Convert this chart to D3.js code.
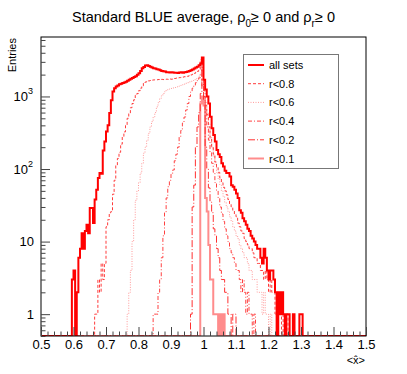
<html>
<head>
<meta charset="utf-8">
<title>Standard BLUE average</title>
<style>
  body { margin: 0; background: #fff; }
  text { font-family: "Liberation Sans", Arial, sans-serif; fill: #000; }
</style>
<script src="https://d3js.org/d3.v7.min.js"></script>
</head>
<body>
<script>
// ---------- data: bin contents, bin width 0.005 from 0.5 to 1.5 ----------
var binWidth = 0.005;
var xLow = 0.5, xHigh = 1.5;

// first bin lower edge of each series, then its counts
var allSetsStart = 0.595;
var allSets = [3,4,0,2,6,8,13,8,14,17,13,29,29,18,38,52,75,88,86,180,
  240,330,400,590,890,1170,1300,1370,1420,1470,1500,1530,1560,1600,1650,1700,1750,1800,1860,1900,
  2000,2090,2250,2440,2550,2680,2700,2620,2570,2500,2440,2420,2370,2360,2300,2240,2230,2200,2150,2160,
  2140,2150,2140,2120,2130,2110,2140,2150,2130,2160,2180,2200,2240,2300,2350,2420,2500,2570,2700,2840,
  3450,1700,1250,1000,800,525,365,295,240,183,160,147,120,108,95,88,88,79,60,57,
  52,46,40,27,25,21,19,17,15,14,12,11,10,9,8,8,6,5,8,6,
  4,3,4,4,3,2,0,2,1,2,1,0,1,1,0,0,1,0,0,0,1,1];

var r08Start = 0.665;
var r08 = [1,1,3,2,5,3,5,16,20,25,26,45,70,113,140,170,220,280,325,400,
  500,580,700,800,900,1040,1100,1200,1300,1400,1540,1580,1620,1640,1660,1680,1690,1700,1700,1710,
  1700,1720,1710,1720,1730,1720,1740,1730,1760,1770,1790,1800,1820,1830,1850,1870,1880,1900,1940,1980,
  2020,2080,2150,2220,2300,3200,1400,1000,750,560,380,260,200,160,125,105,90,75,65,56,
  50,44,38,33,30,27,24,22,18,16,14,13,11,10,9,8,8,7,6,6,
  5,5,4,4,3,4,3,2,3,2,2,1,2,1,1,0,1,0,1];

var r06Start = 0.765;
var r06 = [1,2,4,10,20,37,50,65,88,120,165,200,250,310,380,450,520,600,720,820,
  940,1020,1100,1160,1220,1250,1270,1290,1310,1330,1350,1370,1400,1420,1450,1480,1520,1550,1590,1620,
  1660,1700,1750,1800,1900,2100,3000,1300,850,600,420,280,200,150,115,90,72,60,50,42,
  35,30,26,22,19,16,14,12,11,9,8,7,6,6,5,4,4,3,3,3,
  2,2,2,1,2,1,1,0,1];

var r04Start = 0.845;
var r04 = [1,1,1,2,3,6,12,25,40,57,70,85,97,130,160,200,280,340,430,520,
  650,800,1000,1150,1300,1420,1550,1650,1800,2000,2800,1200,600,380,250,170,120,90,65,50,
  40,30,24,19,15,12,10,8,7,6,5,4,4,3,2,3,2,1,2,1,1,0,1];

var r02Start = 0.96;
var r02 = [1,30,60,200,380,600,1100,2500,900,200,100,55,35,25,15,12,8,6,4,3,
  3,2,2,1,1,0,1,1];

var r01Start = 0.99;
var r01 = [800,1000,750,40,26,9,3,3,1,1,1,0,1,0,1];

var seriesNames = ["all sets","r<0.8","r<0.6","r<0.4","r<0.2","r<0.1"];

var xTickValues = [0.5,0.6,0.7,0.8,0.9,1,1.1,1.2,1.3,1.4,1.5];
var yDecades = [1,10,100,1000];

// ---------- layout ----------
var width = 407, height = 374;
var frame = {left:41, right:366, top:37, bottom:336};

var svg = d3.select("body").append("svg")
  .attr("width", width).attr("height", height);

var x = d3.scaleLinear().domain([xLow, xHigh]).range([frame.left, frame.right]);
var y = d3.scaleLog().domain([0.5, 6600]).range([frame.bottom, frame.top]);

// line styles per series (same order as seriesNames)
var styles = [
  {color:"#ff0000", width:2,   dash:null},
  {color:"#ff3b3b", width:1,   dash:"3,2"},
  {color:"#ff9a9a", width:1,   dash:"1,1.5"},
  {color:"#ff4040", width:1,   dash:"4,2,1,2"},
  {color:"#ff3030", width:1,   dash:"7,2,1,2"},
  {color:"#ff8c8c", width:2,   dash:null}
];

// turn a series into a full list of bins over the axis range
function fullBins(start, counts){
  var nBins = Math.round((xHigh - xLow) / binWidth);
  var offset = Math.round((start - xLow) / binWidth);
  var pts = [];
  for (var i = 0; i < nBins; i++){
    var c = (i - offset >= 0 && i - offset < counts.length) ? counts[i - offset] : 0;
    pts.push([xLow + i * binWidth, c]);
  }
  pts.push([xHigh, pts[pts.length - 1][1]]);
  return pts;
}

var histLine = d3.line()
  .x(function(d){ return x(d[0]); })
  .y(function(d){ return d[1] > 0 ? y(d[1]) : frame.bottom; })
  .curve(d3.curveStepAfter);

svg.append("clipPath").attr("id","frameClip")
  .append("rect")
  .attr("x", frame.left).attr("y", frame.top)
  .attr("width", frame.right - frame.left)
  .attr("height", frame.bottom - frame.top);

var histData = [
  fullBins(allSetsStart, allSets),
  fullBins(r08Start, r08),
  fullBins(r06Start, r06),
  fullBins(r04Start, r04),
  fullBins(r02Start, r02),
  fullBins(r01Start, r01)
];

// draw subsets first, "all sets" last on top
var order = [5,4,3,2,1,0];
var gHist = svg.append("g").attr("clip-path","url(#frameClip)");
order.forEach(function(k){
  gHist.append("path")
    .attr("d", histLine(histData[k]))
    .attr("fill","none")
    .attr("stroke", styles[k].color)
    .attr("stroke-width", styles[k].width)
    .attr("stroke-dasharray", styles[k].dash);
});

// ---------- frame and axes ----------
svg.append("rect")
  .attr("x", frame.left).attr("y", frame.top)
  .attr("width", frame.right - frame.left)
  .attr("height", frame.bottom - frame.top)
  .attr("fill","none").attr("stroke","#000").attr("stroke-width",1);

// x axis: major ticks every 0.1, minor every 0.02
var xMinor = d3.range(25, 76, 1).map(function(d){ return d / 50; })
  .filter(function(d){ return Math.abs(d * 10 - Math.round(d * 10)) > 1e-6; });
var gx = svg.append("g").attr("transform","translate(0," + frame.bottom + ")");
gx.call(d3.axisBottom(x).tickValues(xMinor).tickSize(-4.5).tickFormat(""));
gx.call(function(g){
  g.append("g").call(d3.axisBottom(x).tickValues(xTickValues).tickSize(-9).tickPadding(4)
    .tickFormat(d3.format("")));
});
gx.selectAll(".domain").remove();
gx.selectAll("line").attr("stroke","#444");
gx.selectAll("text").attr("font-size","13px").attr("font-family","Liberation Sans, Arial, sans-serif");

// y axis: log, major at decades, minor 2..9
var yMinor = [];
[0.1,1,10,100,1000].forEach(function(dec){
  for (var m = 2; m <= 9; m++){
    var v = dec * m;
    if (v >= 0.5 && v <= 6600) yMinor.push(v);
  }
});
var gy = svg.append("g").attr("transform","translate(" + frame.left + ",0)");
gy.call(d3.axisLeft(y).tickValues(yMinor).tickSize(-4.5).tickFormat(""));
gy.append("g").call(d3.axisLeft(y).tickValues(yDecades).tickSize(-9).tickFormat(""));
gy.selectAll(".domain").remove();
gy.selectAll("line").attr("stroke","#444");

// decade labels as 1, 10, 10^2, 10^3
var yLab = svg.append("g");
yDecades.forEach(function(v){
  var p = Math.round(Math.log10(v));
  var t = yLab.append("text")
    .attr("x", frame.left - 7).attr("y", y(v) + 4.5)
    .attr("text-anchor","end").attr("font-size","13px");
  if (p <= 1) {
    t.text(String(v));
  } else {
    t.attr("x", frame.left - 13);
    t.text("10");
    yLab.append("text")
      .attr("x", frame.left - 13).attr("y", y(v) - 2)
      .attr("font-size","9px").text(String(p));
  }
});

// axis titles
svg.append("text")
  .attr("transform","translate(16," + (frame.top + 1) + ") rotate(-90)")
  .attr("text-anchor","end").attr("font-size","11px").text("Entries");

var xt = svg.append("text")
  .attr("x", frame.right - 1).attr("y", 364)
  .attr("text-anchor","end").attr("font-size","11px");
xt.text("<x\u0302>");

// title
var title = svg.append("text")
  .attr("x", 203.5).attr("y", 22)
  .attr("text-anchor","middle").attr("font-size","14.5px");
title.append("tspan").text("Standard BLUE average, \u03c1");
title.append("tspan").attr("font-size","10px").attr("dy",5).text("0");
title.append("tspan").attr("dy",-5).text("\u2265 0 and \u03c1");
title.append("tspan").attr("font-size","10px").attr("dy",5).text("r");
title.append("tspan").attr("dy",-5).text("\u2265 0");

// ---------- legend ----------
var legend = svg.append("g");
legend.append("rect")
  .attr("x", 243.5).attr("y", 54.5).attr("width", 95).attr("height", 114)
  .attr("fill","#fff").attr("stroke","#777").attr("stroke-width",1);

var legendY = d3.scalePoint().domain(seriesNames).range([65, 158.5]);
seriesNames.forEach(function(name, k){
  var ly = legendY(name);
  legend.append("line")
    .attr("x1", 248).attr("x2", 264).attr("y1", ly).attr("y2", ly)
    .attr("stroke", styles[k].color)
    .attr("stroke-width", styles[k].width)
    .attr("stroke-dasharray", styles[k].dash);
  legend.append("text")
    .attr("x", 269).attr("y", ly + 4)
    .attr("font-size","11px").text(name);
});
</script>
</body>
</html>
